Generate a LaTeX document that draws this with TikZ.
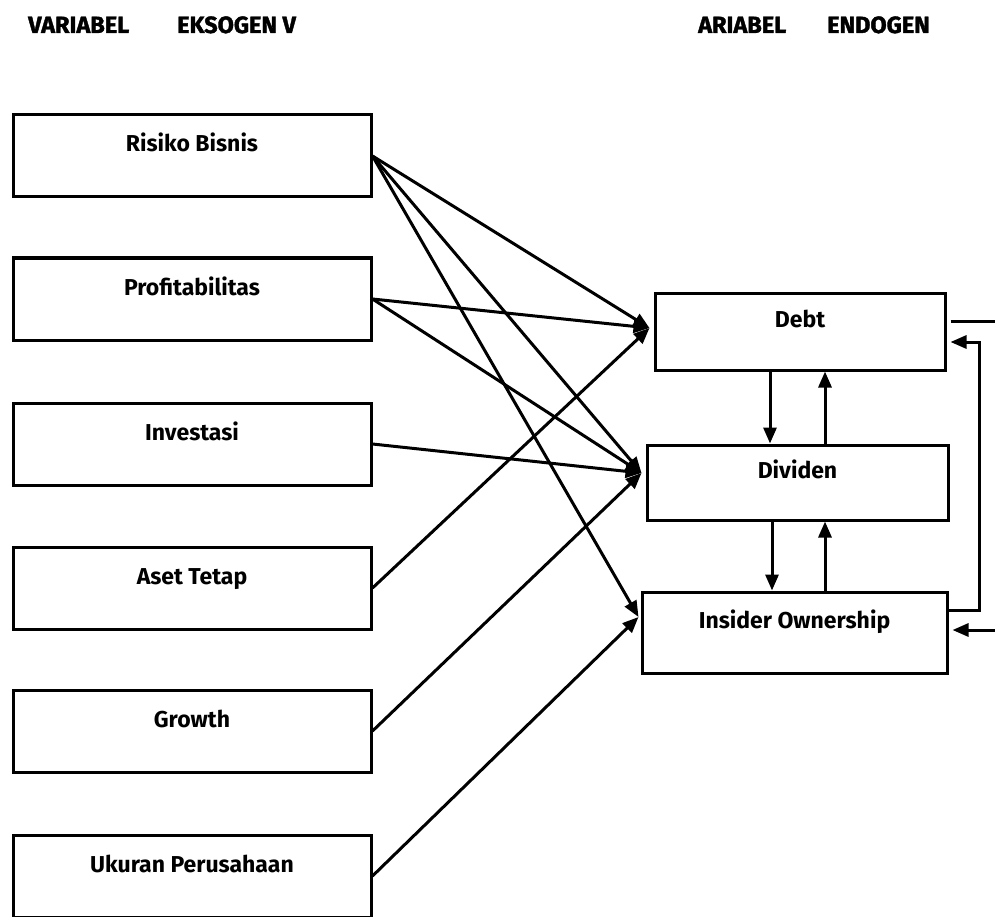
\documentclass[tikz,border=0pt]{standalone}
\usepackage{fontspec}
\setmainfont{Fira Sans}
\newfontfamily\headfont{Fira Sans}[BoldFeatures={FakeBold=1.6}]
\usetikzlibrary{arrows.meta,calc}
\begin{document}
\begin{tikzpicture}[x=1pt,y=-1pt,
  box/.style={draw, line width=3pt, rectangle, inner sep=0pt,
    text height=17pt, text depth=25pt, align=center,
    font=\fontsize{23}{23}\selectfont\bfseries},
  lbox/.style={box, minimum width=358pt, minimum height=82pt},
  head/.style={anchor=base west, inner sep=0pt, font=\headfont\fontsize{23.5}{24}\selectfont\bfseries},
  arr/.style={line width=3pt, -{Triangle[length=16pt,width=13pt]}},
  ln/.style={line width=3pt}]
\useasboundingbox (0,0) rectangle (995,917);
\fill[white] (0,0) rectangle (995,917);

% headers
\node[head] (h1) at (28,33) {VARIABEL};
\node[head] (h2) at (177,33) {EKSOGEN V};
\node[head] (h3) at (698,33) {ARIABEL};
\node[head] (h4) at (827,33) {ENDOGEN};

% exogenous
\node[lbox] (ris) at (192,156) {Risiko Bisnis};
\node[lbox] (pro) at (192,299) {Profitabilitas};
\node[lbox] (inv) at (192,444) {Investasi};
\node[lbox] (ase) at (192,588) {Aset Tetap};
\node[lbox] (gro) at (192,731) {Growth};
\node[lbox] (uku) at (192,876) {Ukuran Perusahaan};

% endogenous
\node[box, minimum width=290pt, minimum height=77pt] (debt) at (800,331.5) {Debt};
\node[box, minimum width=301pt, minimum height=75pt] (div) at (797.5,482.5) {Dividen};
\node[box, minimum width=305pt, minimum height=81pt] (ins) at (794.5,632.5) {Insider Ownership};

% targets
\coordinate (tD) at ([xshift=-4pt,yshift=3.5pt]debt.west);
\coordinate (tV) at ([xshift=-4pt,yshift=9.5pt]div.west);
\coordinate (tI) at ([xshift=-2pt,yshift=15.5pt]ins.west);

\draw[arr] (ris.east) -- (tD);
\draw[arr] (ris.east) -- (tV);
\draw[arr] (ris.east) -- (tI);
\draw[arr] (pro.east) -- (tD);
\draw[arr] (pro.east) -- (tV);
\draw[arr] (inv.east) -- (tV);
\draw[arr] (ase.east) -- (tD);
\draw[arr] (gro.east) -- (tV);
\draw[arr] (uku.east) -- (tI);

% vertical arrows
\coordinate (a1) at ($(debt.south)+(-30,0)$);
\coordinate (a2) at ($(debt.south)+(25,0)$);
\coordinate (a3) at ($(ins.north)+(-22.5,0)$);
\coordinate (a4) at ($(ins.north)+(30.5,0)$);
\draw[arr] (a1) -- (a1 |- div.north);
\draw[arr] (a2 |- div.north) -- (a2);
\draw[arr] (a3 |- div.south) -- (a3);
\draw[arr] (a4) -- (a4 |- div.south);

% right side feedback
\coordinate (outR) at (995,321);
\coordinate (inR) at (995,630);
\draw[ln] ([xshift=4pt,yshift=10.5pt]debt.east) -- (outR);
\draw[arr] ([yshift=22.5pt]ins.east) -- ++(31,0) |- ([xshift=4pt,yshift=-10.5pt]debt.east);
\draw[arr] (inR) -- ([xshift=4pt,yshift=2.5pt]ins.east);
\end{tikzpicture}
\end{document}
